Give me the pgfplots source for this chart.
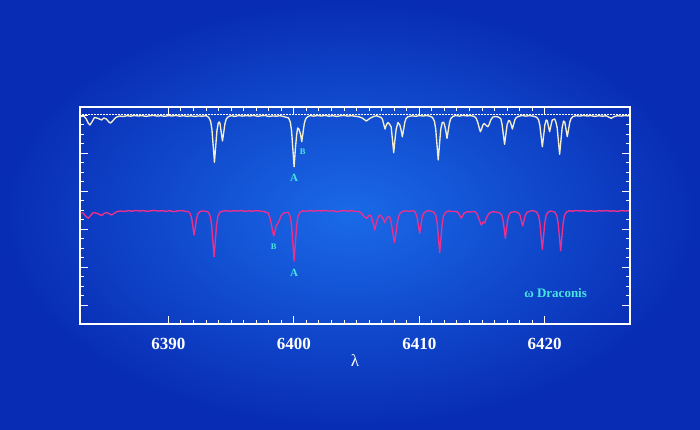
\documentclass[border=0pt]{standalone}
\usepackage{fontspec}
\setmainfont{Liberation Serif}
\usepackage{pgfplots}
\pgfplotsset{compat=1.18}
\definecolor{bgin}{RGB}{26,106,232}
\definecolor{bgout}{RGB}{8,44,180}
\definecolor{specw}{RGB}{242,238,205}
\definecolor{specr}{RGB}{236,48,140}
\definecolor{labc}{RGB}{70,230,225}
\begin{document}
\begin{tikzpicture}
\shade[inner color=bgin, outer color=bgout] (-80pt,-105pt) rectangle (620pt,324pt);
\begin{axis}[
  width=550pt, height=217pt, scale only axis,
  xmin=6382.95, xmax=6426.8, ymin=0, ymax=217,
  xtick={6390,6400,6410,6420}, minor x tick num=9,
  ytick={19,57,95,133,171,209}, minor y tick num=3, yticklabels={},
  tick align=inside,
  axis line style={white, line width=1.6pt},
  every tick/.style={white, line width=1pt},
  major tick length=8pt, minor tick length=4pt,
  /pgf/number format/assume math mode=true,
  /pgf/number format/1000 sep={},
  xticklabel style={text=white, font=\fontsize{17}{17}\selectfont\bfseries, yshift=-11pt},
  xlabel={λ}, xlabel style={text=white, font=\fontsize{17}{17}\selectfont, yshift=2pt},
  clip=true,
]
\addplot[white, densely dotted, line width=0.5pt] coordinates {(6382.95,210) (6426.8,210)};
\addplot[specw, line width=1.35pt, line join=round] coordinates {
(6383.00,207.5)(6383.25,208)(6383.45,205)(6383.6,201)(6383.74,199)(6383.9,202)(6384.1,206.5)(6384.3,206)(6384.5,205)(6384.67,204)(6384.85,206)(6385.05,205)(6385.25,202)(6385.39,201)(6385.55,203)(6385.8,206.5)(6386.1,208)(6386.4,207.5)(6386.7,208.3)(6387.0,207.8)(6387.3,208.5)(6387.6,208)(6387.9,208.4)(6388.2,207.6)(6388.5,208.2)(6388.8,208.6)(6389.1,207.9)(6389.4,208.3)(6389.7,207.7)(6390.0,208.4)(6390.3,208)(6390.6,208.6)(6390.9,207.8)(6391.2,208.3)(6391.5,207.6)(6391.8,208.2)(6392.1,207.5)(6392.4,208.1)(6392.7,207.8)(6393.0,208.3)
(6393.22,206.6)(6393.37,202.5)(6393.47,194.2)(6393.57,178.1)(6393.67,161.7)(6393.77,178.1)(6393.87,193.5)(6393.97,200.8)(6394.06,202)(6394.11,200.5)(6394.21,191.75)(6394.31,183)(6394.41,191.75)(6394.51,200.5)(6394.61,205)(6394.76,207.2)
(6395.0,208.3)(6395.3,207.6)(6395.6,208.5)(6395.9,207.9)(6396.2,208.4)(6396.5,208)(6396.8,208.6)(6397.1,207.7)(6397.4,208.2)(6397.7,208.5)(6398.0,207.5)(6398.3,208.1)(6398.6,207.8)(6398.9,208.3)(6399.2,207.4)(6399.45,206.5)
(6399.57,206.2)(6399.72,201.9)(6399.82,192.8)(6399.92,175)(6400.02,157.3)(6400.12,175)(6400.22,189)(6400.30,196)(6400.40,195)(6400.53,190)(6400.63,182.3)(6400.73,191.3)(6400.83,200.3)(6400.93,204.9)(6401.08,207.2)
(6401.3,208.4)(6401.6,207.9)(6401.9,208.5)(6402.2,208)(6402.5,208.6)(6402.8,207.8)(6403.1,208.3)(6403.4,207.6)(6403.7,208.2)(6404.0,208.6)(6404.3,207.9)(6404.6,208.3)(6404.9,207.7)(6405.2,207.2)
(6405.45,206)(6405.78,203)(6406.05,205.5)(6406.35,207.5)(6406.6,208.2)(6406.85,207)
(6406.97,206.5)(6407.07,204.5)(6407.17,199.5)(6407.27,195)(6407.37,199)(6407.50,201.5)(6407.62,200)(6407.76,197)(6407.86,184.5)(6407.96,171.3)(6408.06,184.5)(6408.16,195)(6408.30,201.5)(6408.45,199)(6408.55,194)(6408.65,187.3)(6408.75,194.5)(6408.85,201.8)(6408.95,205.5)(6409.1,207.3)
(6409.4,208.2)(6409.7,207.7)(6410.0,208.4)(6410.3,208)(6410.6,208.5)(6410.9,207.6)(6411.06,206.5)
(6411.21,202.7)(6411.31,194.8)(6411.41,179.4)(6411.51,164)(6411.61,179.4)(6411.71,194.5)(6411.83,201.5)(6411.94,201.8)(6412.01,199.3)(6412.11,193.5)(6412.21,185.7)(6412.31,193.5)(6412.41,201.3)(6412.51,205.3)(6412.66,207.4)
(6412.9,208.5)(6413.2,207.9)(6413.5,208.6)(6413.8,208.1)(6414.1,208.4)(6414.4,207.5)
(6414.55,205.5)(6414.7,200)(6414.8,195)(6414.87,192.3)(6414.95,194.5)(6415.07,199)(6415.17,200.5)(6415.3,199)(6415.4,197.8)(6415.47,197.3)(6415.55,199)(6415.7,204)(6415.85,206.8)(6416.05,207.5)(6416.3,207)
(6416.5,205.3)(6416.6,199.5)(6416.7,189.6)(6416.80,179.7)(6416.9,189.6)(6417.0,199)(6417.12,203.5)(6417.22,203)(6417.32,199.5)(6417.42,195)(6417.52,199.5)(6417.62,204.1)(6417.72,206.4)(6417.9,207.6)
(6418.2,208.5)(6418.5,207.9)(6418.8,208.4)(6419.1,207.8)(6419.35,206.8)
(6419.51,204.3)(6419.61,198.8)(6419.71,188)(6419.81,177.3)(6419.91,188)(6420.01,199)(6420.12,204)(6420.2,203.3)(6420.29,198)(6420.39,192.3)(6420.49,198)(6420.6,204)(6420.79,205)(6420.89,202)(6420.99,196.5)(6421.09,183)(6421.19,169.7)(6421.29,183)(6421.39,196.5)(6421.5,203)(6421.6,201.8)(6421.7,194.5)(6421.80,187.3)(6421.9,194.5)(6422.0,201.8)(6422.1,205.5)(6422.25,207.4)
(6422.5,208.3)(6422.8,207.9)(6423.1,208.5)(6423.4,208)(6423.7,208.4)(6424.0,207.6)(6424.3,208.3)(6424.6,207.8)(6424.9,208.2)(6425.1,207)(6425.31,205.7)(6425.5,207.2)(6425.8,208.3)(6426.1,207.9)(6426.4,208.5)(6426.7,208)
};
\addplot[specr, line width=1.35pt, line join=round] coordinates {
(6383.0,111)(6383.2,111)(6383.4,108)(6383.6,105.7)(6383.8,108.5)(6384.0,111.5)(6384.2,111)(6384.45,110)(6384.67,108.3)(6384.85,110.5)(6385.05,111.5)(6385.25,110.5)(6385.47,109)(6385.65,110.5)(6385.9,112.5)(6386.2,113)(6386.5,112.6)(6386.8,113.3)(6387.1,112.8)(6387.4,113.5)(6387.7,113)(6388.0,113.4)(6388.3,112.6)(6388.6,113.2)(6388.9,113.6)(6389.2,112.9)(6389.5,113.3)(6389.8,112.7)(6390.1,113.4)(6390.4,112.3)(6390.7,113)(6391.0,113.5)(6391.3,112.8)
(6391.6,112.3)(6391.75,110.1)(6391.85,105.8)(6391.95,97.4)(6392.05,89)(6392.15,97.4)(6392.25,105.8)(6392.35,110.1)(6392.5,112.3)(6392.7,113.2)(6392.9,112.8)(6393.1,112.5)
(6393.19,111.6)(6393.34,107.5)(6393.44,99.3)(6393.54,83.3)(6393.64,67.3)(6393.74,83.3)(6393.84,99.3)(6393.94,107.5)(6394.09,111.6)
(6394.3,112.8)(6394.6,113.4)(6394.9,112.7)(6395.2,113.3)(6395.5,112.9)(6395.8,113.5)(6396.1,112.6)(6396.4,113.2)(6396.7,112.8)(6397.0,113.4)(6397.3,113)(6397.6,112.4)(6397.85,111.5)
(6397.95,111.2)(6398.1,106)(6398.2,100)(6398.3,93)(6398.40,88)(6398.5,93.5)(6398.6,98.5)(6398.72,100.5)(6398.85,104)(6399.0,108.5)(6399.2,111.2)(6399.4,111.5)(6399.57,111.5)
(6399.72,107)(6399.82,98)(6399.92,80.5)(6400.02,63)(6400.12,80.5)(6400.22,98)(6400.32,107)(6400.47,111.5)
(6400.7,113.2)(6401.0,112.7)(6401.3,113.4)(6401.6,112.8)(6401.9,113.5)(6402.2,113)(6402.5,113.6)(6402.8,112.9)(6403.1,113.3)(6403.4,112.2)(6403.7,113)(6404.0,113.5)(6404.3,112.8)(6404.6,113.3)(6404.9,112.6)(6405.2,112.5)(6405.45,110)
(6405.6,107.5)(6405.78,105.7)(6405.95,108)(6406.07,109)(6406.2,106.5)(6406.35,99.5)(6406.45,94)(6406.55,99.5)(6406.7,106)(6406.85,109)(6407.0,107.5)(6407.14,104.5)(6407.24,101.3)(6407.34,104.5)(6407.5,107.5)(6407.62,107.5)(6407.72,104)(6407.82,96.5)(6407.92,89)(6408.02,81.3)(6408.12,89)(6408.22,99)(6408.32,106)(6408.45,110.5)(6408.65,112.5)
(6408.9,113.2)(6409.2,112.6)(6409.5,113.3)(6409.65,112.5)
(6409.73,110.3)(6409.83,106.3)(6409.93,98.5)(6410.03,90.7)(6410.13,98.5)(6410.23,106.3)(6410.33,110.3)(6410.48,112.3)(6410.7,113.4)(6410.95,112.8)(6411.18,111.7)
(6411.33,108)(6411.43,100.5)(6411.53,86)(6411.63,71.3)(6411.73,86)(6411.83,100.5)(6411.93,108)(6412.08,111.7)(6412.3,113)(6412.6,112.5)(6412.9,112.6)
(6413.1,111.5)(6413.35,105.7)(6413.55,110.5)(6413.8,112.3)(6414.1,112)(6414.4,112.6)
(6414.6,110.5)(6414.75,105)(6414.95,99)(6415.08,102)(6415.21,101)(6415.35,106)(6415.55,110.5)(6415.8,112.3)(6416.1,112)(6416.35,111.5)
(6416.41,110.8)(6416.56,109.5)(6416.66,104.8)(6416.76,96)(6416.86,85.7)(6416.96,96)(6417.06,104.8)(6417.16,109.5)(6417.31,111.7)(6417.55,112.4)(6417.8,111.8)(6417.95,110.5)
(6418.04,108.5)(6418.14,103)(6418.24,98)(6418.34,103)(6418.44,108.5)(6418.6,111.8)(6418.85,113)(6419.1,113.3)(6419.36,111.9)
(6419.51,108.4)(6419.61,101.5)(6419.71,88)(6419.81,74.7)(6419.91,88)(6420.01,101.5)(6420.11,108.4)(6420.26,111.9)(6420.5,113)
(6420.82,111.8)(6420.97,108.2)(6421.07,101.1)(6421.17,87.2)(6421.27,73.3)(6421.37,87.2)(6421.47,101.1)(6421.57,108.2)(6421.72,111.8)
(6421.95,113.3)(6422.2,112.8)(6422.5,113.5)(6422.8,113)(6423.1,113.4)(6423.4,112.7)(6423.7,113.2)(6424.0,112.6)(6424.3,113.3)(6424.6,112.9)(6424.9,113.5)(6425.2,112.8)(6425.5,113.2)(6425.8,112.6)(6426.1,113.4)(6426.4,113)(6426.7,113.3)
};
\node[text=labc, font=\fontsize{11}{11}\selectfont\bfseries] at (axis cs:6400.02,146) {A};
\node[text=labc, font=\fontsize{8.5}{8.5}\selectfont\bfseries] at (axis cs:6400.7,172.3) {B};
\node[text=labc, font=\fontsize{8.5}{8.5}\selectfont\bfseries] at (axis cs:6398.4,77.3) {B};
\node[text=labc, font=\fontsize{11}{11}\selectfont\bfseries] at (axis cs:6400.02,50.7) {A};
\node[text=labc, font=\fontsize{13}{13}\selectfont\bfseries] at (axis cs:6420.87,31) {ω\ Draconis};
\end{axis}
\pgfresetboundingbox
\path (-80pt,-105pt) rectangle (620pt,324pt);
\end{tikzpicture}
\end{document}
